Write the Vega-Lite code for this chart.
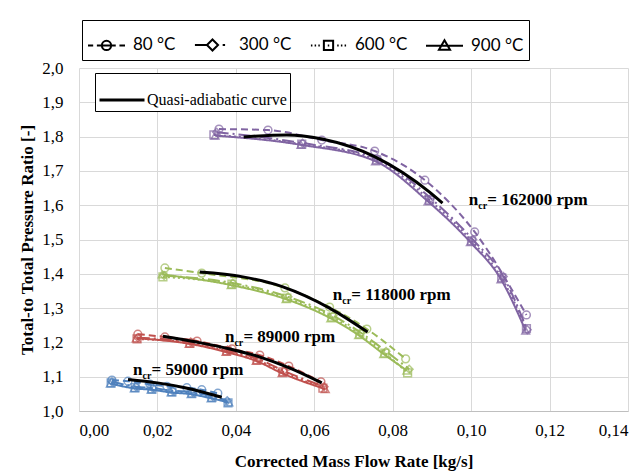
{
  "$schema": "https://vega.github.io/schema/vega-lite/v6.json",
  "width": 549,
  "height": 343,
  "autosize": "none",
  "padding": {"left": 79, "top": 68, "right": 16, "bottom": 63},
  "background": "white",
  "config": {"view": {"stroke": null}, "font": "Liberation Serif"},
  "datasets": {
    "main": [
      {"s":"162000","t":"80 °C","x":0.0357,"y":1.822},{"s":"162000","t":"80 °C","x":0.0482,"y":1.819},{"s":"162000","t":"80 °C","x":0.0619,"y":1.790},{"s":"162000","t":"80 °C","x":0.0754,"y":1.758},{"s":"162000","t":"80 °C","x":0.0882,"y":1.673},{"s":"162000","t":"80 °C","x":0.1009,"y":1.522},{"s":"162000","t":"80 °C","x":0.1141,"y":1.280},
      {"s":"162000","t":"300 °C","x":0.0351,"y":1.813},{"s":"162000","t":"300 °C","x":0.0570,"y":1.781},{"s":"162000","t":"300 °C","x":0.0762,"y":1.735},{"s":"162000","t":"300 °C","x":0.0897,"y":1.620},{"s":"162000","t":"300 °C","x":0.1004,"y":1.500},{"s":"162000","t":"300 °C","x":0.1082,"y":1.392},{"s":"162000","t":"300 °C","x":0.1143,"y":1.237},
      {"s":"162000","t":"600 °C","x":0.0344,"y":1.805},{"s":"162000","t":"600 °C","x":0.0568,"y":1.778},{"s":"162000","t":"600 °C","x":0.0759,"y":1.732},{"s":"162000","t":"600 °C","x":0.0894,"y":1.615},{"s":"162000","t":"600 °C","x":0.1001,"y":1.496},{"s":"162000","t":"600 °C","x":0.1078,"y":1.388},{"s":"162000","t":"600 °C","x":0.1141,"y":1.240},
      {"s":"162000","t":"900 °C","x":0.0347,"y":1.803},{"s":"162000","t":"900 °C","x":0.0566,"y":1.776},{"s":"162000","t":"900 °C","x":0.0756,"y":1.728},{"s":"162000","t":"900 °C","x":0.0890,"y":1.611},{"s":"162000","t":"900 °C","x":0.0998,"y":1.492},{"s":"162000","t":"900 °C","x":0.1076,"y":1.384},{"s":"162000","t":"900 °C","x":0.1139,"y":1.234},
      {"s":"118000","t":"80 °C","x":0.0219,"y":1.417},{"s":"118000","t":"80 °C","x":0.0313,"y":1.402},{"s":"118000","t":"80 °C","x":0.0525,"y":1.359},{"s":"118000","t":"80 °C","x":0.0639,"y":1.303},{"s":"118000","t":"80 °C","x":0.0734,"y":1.239},{"s":"118000","t":"80 °C","x":0.0833,"y":1.152},
      {"s":"118000","t":"300 °C","x":0.0217,"y":1.395},{"s":"118000","t":"300 °C","x":0.0392,"y":1.373},{"s":"118000","t":"300 °C","x":0.0533,"y":1.333},{"s":"118000","t":"300 °C","x":0.0648,"y":1.278},{"s":"118000","t":"300 °C","x":0.0719,"y":1.228},{"s":"118000","t":"300 °C","x":0.0783,"y":1.174},{"s":"118000","t":"300 °C","x":0.0842,"y":1.122},
      {"s":"118000","t":"600 °C","x":0.0214,"y":1.391},{"s":"118000","t":"600 °C","x":0.0390,"y":1.370},{"s":"118000","t":"600 °C","x":0.0530,"y":1.329},{"s":"118000","t":"600 °C","x":0.0645,"y":1.274},{"s":"118000","t":"600 °C","x":0.0716,"y":1.224},{"s":"118000","t":"600 °C","x":0.0780,"y":1.169},{"s":"118000","t":"600 °C","x":0.0838,"y":1.111},
      {"s":"118000","t":"900 °C","x":0.0212,"y":1.398},{"s":"118000","t":"900 °C","x":0.0388,"y":1.367},{"s":"118000","t":"900 °C","x":0.0528,"y":1.326},{"s":"118000","t":"900 °C","x":0.0642,"y":1.270},{"s":"118000","t":"900 °C","x":0.0713,"y":1.221},{"s":"118000","t":"900 °C","x":0.0777,"y":1.166},{"s":"118000","t":"900 °C","x":0.0836,"y":1.118},
      {"s":"89000","t":"80 °C","x":0.0150,"y":1.224},{"s":"89000","t":"80 °C","x":0.0219,"y":1.216},{"s":"89000","t":"80 °C","x":0.0301,"y":1.204},{"s":"89000","t":"80 °C","x":0.0390,"y":1.181},{"s":"89000","t":"80 °C","x":0.0461,"y":1.163},{"s":"89000","t":"80 °C","x":0.0535,"y":1.131},{"s":"89000","t":"80 °C","x":0.0617,"y":1.085},
      {"s":"89000","t":"300 °C","x":0.0150,"y":1.214},{"s":"89000","t":"300 °C","x":0.0285,"y":1.201},{"s":"89000","t":"300 °C","x":0.0379,"y":1.178},{"s":"89000","t":"300 °C","x":0.0456,"y":1.152},{"s":"89000","t":"300 °C","x":0.0522,"y":1.117},{"s":"89000","t":"300 °C","x":0.0625,"y":1.071},
      {"s":"89000","t":"600 °C","x":0.0148,"y":1.210},{"s":"89000","t":"600 °C","x":0.0283,"y":1.198},{"s":"89000","t":"600 °C","x":0.0377,"y":1.175},{"s":"89000","t":"600 °C","x":0.0454,"y":1.149},{"s":"89000","t":"600 °C","x":0.0520,"y":1.114},{"s":"89000","t":"600 °C","x":0.0622,"y":1.067},
      {"s":"89000","t":"900 °C","x":0.0146,"y":1.212},{"s":"89000","t":"900 °C","x":0.0281,"y":1.196},{"s":"89000","t":"900 °C","x":0.0375,"y":1.172},{"s":"89000","t":"900 °C","x":0.0452,"y":1.146},{"s":"89000","t":"900 °C","x":0.0518,"y":1.110},{"s":"89000","t":"900 °C","x":0.0628,"y":1.064},
      {"s":"59000","t":"80 °C","x":0.0084,"y":1.090},{"s":"59000","t":"80 °C","x":0.0125,"y":1.087},{"s":"59000","t":"80 °C","x":0.0181,"y":1.078},{"s":"59000","t":"80 °C","x":0.0224,"y":1.072},{"s":"59000","t":"80 °C","x":0.0275,"y":1.068},{"s":"59000","t":"80 °C","x":0.0313,"y":1.062},{"s":"59000","t":"80 °C","x":0.0354,"y":1.052},
      {"s":"59000","t":"300 °C","x":0.0084,"y":1.085},{"s":"59000","t":"300 °C","x":0.0145,"y":1.071},{"s":"59000","t":"300 °C","x":0.0188,"y":1.067},{"s":"59000","t":"300 °C","x":0.0239,"y":1.059},{"s":"59000","t":"300 °C","x":0.0290,"y":1.055},{"s":"59000","t":"300 °C","x":0.0341,"y":1.043},{"s":"59000","t":"300 °C","x":0.0378,"y":1.030},
      {"s":"59000","t":"600 °C","x":0.0082,"y":1.082},{"s":"59000","t":"600 °C","x":0.0143,"y":1.068},{"s":"59000","t":"600 °C","x":0.0186,"y":1.064},{"s":"59000","t":"600 °C","x":0.0237,"y":1.056},{"s":"59000","t":"600 °C","x":0.0288,"y":1.052},{"s":"59000","t":"600 °C","x":0.0339,"y":1.040},{"s":"59000","t":"600 °C","x":0.0380,"y":1.024},
      {"s":"59000","t":"900 °C","x":0.0080,"y":1.080},{"s":"59000","t":"900 °C","x":0.0141,"y":1.066},{"s":"59000","t":"900 °C","x":0.0184,"y":1.062},{"s":"59000","t":"900 °C","x":0.0235,"y":1.054},{"s":"59000","t":"900 °C","x":0.0286,"y":1.049},{"s":"59000","t":"900 °C","x":0.0337,"y":1.037},{"s":"59000","t":"900 °C","x":0.0382,"y":1.025}
    ],
    "black": [
      {"s":"59000","x":0.0125,"y":1.092},{"s":"59000","x":0.0200,"y":1.082},{"s":"59000","x":0.0270,"y":1.068},{"s":"59000","x":0.0364,"y":1.040},
      {"s":"89000","x":0.0214,"y":1.218},{"s":"89000","x":0.0300,"y":1.201},{"s":"89000","x":0.0385,"y":1.181},{"s":"89000","x":0.0460,"y":1.158},{"s":"89000","x":0.0538,"y":1.125},{"s":"89000","x":0.0619,"y":1.082},
      {"s":"118000","x":0.0308,"y":1.405},{"s":"118000","x":0.0418,"y":1.391},{"s":"118000","x":0.0520,"y":1.362},{"s":"118000","x":0.0639,"y":1.300},{"s":"118000","x":0.0736,"y":1.230},
      {"s":"162000","x":0.0420,"y":1.799},{"s":"162000","x":0.0530,"y":1.805},{"s":"162000","x":0.0620,"y":1.793},{"s":"162000","x":0.0755,"y":1.741},{"s":"162000","x":0.0894,"y":1.638},{"s":"162000","x":0.0927,"y":1.606}
    ],
    "labels": [
      {"x":0.0994,"y":1.600,"txt":"= 162000 rpm"},
      {"x":0.0647,"y":1.324,"txt":"= 118000 rpm"},
      {"x":0.0372,"y":1.201,"txt":"= 89000 rpm"},
      {"x":0.0138,"y":1.105,"txt":"= 59000 rpm"}
    ]
  },
  "encoding": {
    "x": {
      "field": "x", "type": "quantitative",
      "scale": {"domain": [0, 0.14], "nice": false},
      "axis": {
        "values": [0, 0.02, 0.04, 0.06, 0.08, 0.1, 0.12, 0.14],
        "labelExpr": "replace(format(datum.value, '.2f'), '.', ',')",
        "title": "Corrected Mass Flow Rate [kg/s]",
        "titleFont": "Liberation Serif", "titleFontSize": 17, "titleFontWeight": "bold", "titleColor": "black",
        "labelFont": "Liberation Serif", "labelFontSize": 17, "labelColor": "black",
        "ticks": false, "labelPadding": 11, "titlePadding": 15,
        "grid": true, "gridColor": "#d9d9d9", "gridWidth": 1,
        "domainColor": "#bfbfbf", "domainWidth": 1
      }
    },
    "y": {
      "field": "y", "type": "quantitative",
      "scale": {"domain": [1, 2], "nice": false},
      "axis": {
        "values": [1, 1.1, 1.2, 1.3, 1.4, 1.5, 1.6, 1.7, 1.8, 1.9, 2],
        "labelExpr": "replace(format(datum.value, '.1f'), '.', ',')",
        "title": "Total-to Total Pressure Ratio [-]",
        "titleFont": "Liberation Serif", "titleFontSize": 17, "titleFontWeight": "bold", "titleColor": "black",
        "labelFont": "Liberation Serif", "labelFontSize": 17, "labelColor": "black",
        "ticks": false, "labelPadding": 16, "titlePadding": 5,
        "grid": true, "gridColor": "#d9d9d9", "gridWidth": 1,
        "domain": false
      }
    }
  },
  "resolve": {"scale": {"shape": "independent"}},
  "layer": [
    {
      "data": {"name": "main"},
      "mark": {"type": "line", "strokeWidth": 2, "interpolate": "monotone"},
      "encoding": {
        "color": {"field": "s", "type": "nominal", "scale": {"domain": ["59000", "89000", "118000", "162000"], "range": ["#4F81BD", "#C0504D", "#9BBB59", "#8064A2"]}, "legend": null},
        "strokeDash": {"field": "t", "type": "nominal", "scale": {"domain": ["80 °C", "300 °C", "600 °C", "900 °C"], "range": [[7, 4], [12, 4, 2, 4], [2, 3], [1, 0]]}, "legend": null}
      }
    },
    {
      "data": {"name": "main"},
      "mark": {"type": "point", "filled": false, "strokeWidth": 1.5, "size": 60},
      "encoding": {
        "color": {"field": "s", "type": "nominal", "legend": null},
        "shape": {"field": "t", "type": "nominal", "scale": {"domain": ["80 °C", "300 °C", "600 °C", "900 °C"], "range": ["circle", "diamond", "square", "triangle-up"]}, "legend": null}
      }
    },
    {
      "data": {"name": "black"},
      "mark": {"type": "line", "strokeWidth": 3, "interpolate": "monotone"},
      "encoding": {
        "detail": {"field": "s"},
        "stroke": {
          "datum": "Quasi-adiabatic curve", "type": "nominal",
          "scale": {"range": ["black"]},
          "legend": {
            "orient": "none", "legendX": 16, "legendY": 5, "title": null,
            "symbolType": "M-1,0H1", "symbolSize": 2025, "symbolStrokeWidth": 3, "symbolStrokeColor": "black",
            "labelFont": "Liberation Serif", "labelFontSize": 16, "labelColor": "black", "labelOffset": 1,
            "padding": 3, "strokeColor": "black", "fillColor": "white"
          }
        }
      }
    },
    {
      "data": {"name": "main"},
      "mark": {"type": "point", "opacity": 0, "filled": false},
      "encoding": {
        "shape": {
          "field": "t", "type": "nominal",
          "scale": {"domain": ["80 °C", "300 °C", "600 °C", "900 °C"], "range": [
            "M-1,0H-0.72M-0.52,0H0.5M0.7,0H1M0.25,0A0.25,0.25 0 1,1 -0.25,0A0.25,0.25 0 1,1 0.25,0",
            "M-0.95,0H-0.3M0,-0.3L0.3,0L0,0.3L-0.3,0ZM0.55,0H0.68",
            "M-0.95,0H-0.87M-0.75,0H-0.67M-0.55,0H-0.47M-0.25,-0.25H0.25V0.25H-0.25ZM-0.04,0H0.04M0.47,0H0.55M0.67,0H0.75M0.87,0H0.95",
            "M-1,0H1M0,-0.3L0.3,0.22L-0.3,0.22Z"
          ]},
          "legend": {
            "orient": "none", "legendX": 3, "legendY": -48, "direction": "horizontal", "title": null,
            "symbolSize": 1369, "symbolStrokeWidth": 2, "symbolStrokeColor": "black", "symbolFillColor": "transparent", "symbolOpacity": 1,
            "labelFont": "Lato", "labelFontSize": 17, "labelColor": "black", "labelOffset": 7,
            "columnPadding": 14, "padding": 5, "strokeColor": "black", "fillColor": "white",
            "encode": {"symbols": {"update": {"opacity": {"value": 1}, "stroke": {"value": "black"}, "strokeWidth": {"value": 2}, "fill": {"value": "transparent"}}}}
          }
        }
      }
    },
    {
      "data": {"name": "labels"},
      "mark": {"type": "text", "text": "n", "align": "left", "baseline": "alphabetic", "font": "Liberation Serif", "fontSize": 17, "fontWeight": "bold", "color": "black"}
    },
    {
      "data": {"name": "labels"},
      "mark": {"type": "text", "text": "cr", "align": "left", "baseline": "alphabetic", "dx": 9.5, "dy": 4, "font": "Liberation Serif", "fontSize": 10, "fontWeight": "bold", "color": "black"}
    },
    {
      "data": {"name": "labels"},
      "mark": {"type": "text", "align": "left", "baseline": "alphabetic", "dx": 18.5, "font": "Liberation Serif", "fontSize": 17, "fontWeight": "bold", "color": "black"},
      "encoding": {"text": {"field": "txt"}}
    }
  ]
}
